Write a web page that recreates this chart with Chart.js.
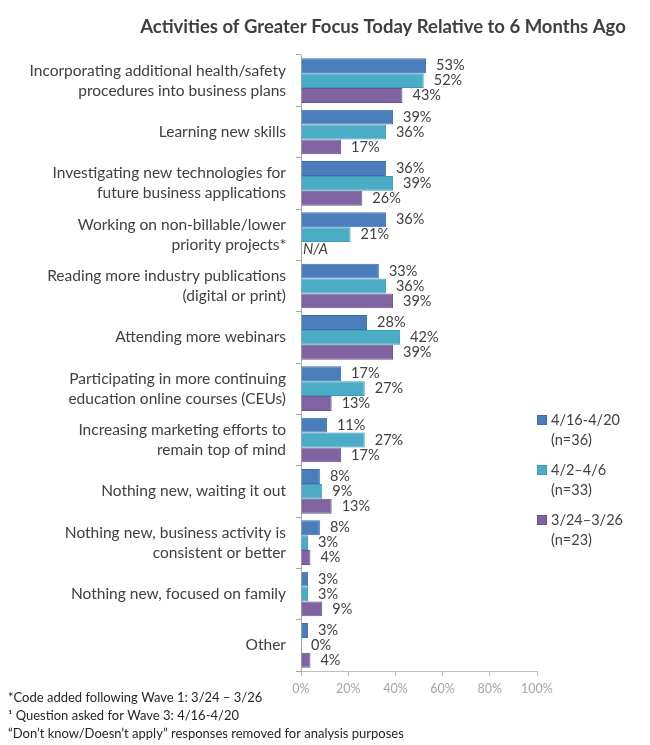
<!DOCTYPE html>
<html>
<head>
<meta charset="utf-8">
<script src="https://cdn.jsdelivr.net/npm/chart.js@4/dist/chart.umd.min.js"></script>
<style>
  html, body { margin: 0; padding: 0; background: #ffffff; }
  #wrap { width: 650px; height: 745px; position: relative; }
</style>
</head>
<body>
<div id="wrap"><canvas id="c" width="650" height="745"></canvas></div>
<script>
const titleText = "Activities of Greater Focus Today Relative to 6 Months Ago";

const categories = [
  ["Incorporating additional health/safety", "procedures into business plans"],
  "Learning new skills",
  ["Investigating new technologies for", "future business applications"],
  ["Working on non-billable/lower", "priority projects*"],
  ["Reading more industry publications", "(digital or print)"],
  "Attending more webinars",
  ["Participating in more continuing", "education online courses (CEUs)"],
  ["Increasing marketing efforts to", "remain top of mind"],
  "Nothing new, waiting it out",
  ["Nothing new, business activity is", "consistent or better"],
  "Nothing new, focused on family",
  "Other"
];

const seriesNames = ["4/16-4/20", "4/2\u20134/6", "3/24\u20133/26"];
const seriesN = ["(n=36)", "(n=33)", "(n=23)"];

const wave3 = [53, 39, 36, 36, 33, 28, 17, 11, 8, 8, 3, 3];
const wave2 = [52, 36, 39, 21, 36, 42, 27, 27, 9, 3, 3, 0];
const wave1 = [43, 17, 26, null, 39, 39, 13, 17, 13, 4, 9, 4];

const xTicks = [0, 20, 40, 60, 80, 100];

const footnotes = [
  "*Code added following Wave 1: 3/24 \u2013 3/26",
  "\u00B9 Question asked for Wave 3: 4/16-4/20",
  "\u201CDon\u2019t know/Doesn\u2019t apply\u201D responses removed for analysis purposes"
];

const colors = ["#4a7ebb", "#4bacc6", "#8064a2"];
const borders = ["#3d6db0", "#3f9cb6", "#6d5490"];
const FONT = "Lato, 'Open Sans', sans-serif";
const TXT = "#404040";

const extras = {
  id: "extras",
  afterDatasetsDraw(chart) {
    const ctx = chart.ctx;
    const xs = chart.scales.x;
    ctx.save();
    ctx.textBaseline = "middle";
    ctx.textAlign = "left";
    chart.data.datasets.forEach((ds, i) => {
      const meta = chart.getDatasetMeta(i);
      meta.data.forEach((el, j) => {
        const v = ds.data[j];
        ctx.fillStyle = TXT;
        if (v === null || v === undefined) {
          ctx.font = "italic 14.5px " + FONT;
          ctx.fillText("N/A", xs.getPixelForValue(0) + 2, el.y);
        } else {
          ctx.font = "14.5px " + FONT;
          ctx.fillText(v + "%", el.x + 10, el.y);
        }
      });
    });
    ctx.restore();
  },
  afterDraw(chart) {
    const ctx = chart.ctx;
    ctx.save();
    // title
    ctx.font = "bold 18.5px " + FONT;
    ctx.fillStyle = TXT;
    ctx.textAlign = "center";
    ctx.textBaseline = "middle";
    ctx.fillText(titleText, 383, 27);
    // legend
    const lx = chart.chartArea.right;
    const startY = 420;
    const gap = 50;
    ctx.textAlign = "left";
    ctx.font = "14.5px " + FONT;
    seriesNames.forEach((name, i) => {
      const y = startY + i * gap;
      ctx.fillStyle = colors[i];
      ctx.fillRect(lx, y - 5, 10, 10);
      ctx.strokeStyle = borders[i];
      ctx.lineWidth = 1;
      ctx.strokeRect(lx + 0.5, y - 4.5, 9, 9);
      ctx.fillStyle = TXT;
      ctx.fillText(name, lx + 14, y);
      ctx.fillText(seriesN[i], lx + 14, y + 20);
    });
    // footnotes
    ctx.font = "13px " + FONT;
    ctx.fillStyle = "#262626";
    footnotes.forEach((t, i) => {
      ctx.fillText(t, 8, 698 + i * 18);
    });
    ctx.restore();
  }
};

new Chart(document.getElementById("c"), {
  type: "bar",
  data: {
    labels: categories,
    datasets: [
      { label: seriesNames[0], data: wave3, backgroundColor: colors[0], borderColor: borders[0], borderWidth: 1 },
      { label: seriesNames[1], data: wave2, backgroundColor: colors[1], borderColor: borders[1], borderWidth: 1 },
      { label: seriesNames[2], data: wave1, backgroundColor: colors[2], borderColor: borders[2], borderWidth: 1 }
    ]
  },
  options: {
    indexAxis: "y",
    responsive: false,
    animation: false,
    layout: { padding: { left: 0, top: 55, right: 113, bottom: 46 } },
    datasets: { bar: { barPercentage: 1.0, categoryPercentage: 0.87 } },
    plugins: {
      legend: { display: false },
      title: { display: false },
      tooltip: { enabled: false }
    },
    scales: {
      x: {
        min: 0, max: 100,
        afterBuildTicks(scale) { scale.ticks = xTicks.map(v => ({ value: v })); },
        afterFit(scale) { scale.height = 28; },
        ticks: {
          callback: v => v + "%",
          color: "#a6a6a6",
          font: { family: FONT, size: 12.5 },
          padding: 5,
          maxRotation: 0
        },
        grid: { drawOnChartArea: false, drawTicks: true, tickLength: 5, color: "#bfbfbf" },
        border: { display: true, color: "#bfbfbf" }
      },
      y: {
        afterFit(scale) { scale.width = 301; },
        ticks: {
          color: TXT,
          font: { family: FONT, size: 15.5, lineHeight: 1.3 },
          padding: 10,
          autoSkip: false
        },
        grid: { drawOnChartArea: false, drawTicks: true, tickLength: 5, offset: true, color: "#a6a6a6" },
        border: { display: true, color: "#a6a6a6" }
      }
    }
  },
  plugins: [extras]
});
</script>
</body>
</html>
